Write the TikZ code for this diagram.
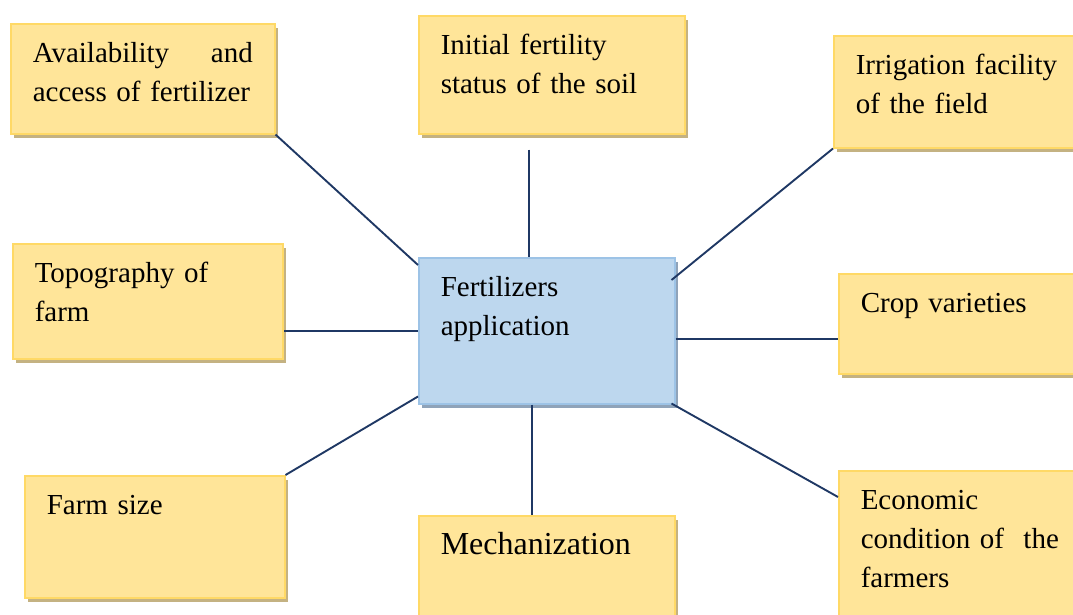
\documentclass[tikz,border=0pt]{standalone}
\usepackage{fontspec}
\setmainfont{Liberation Serif}
\usetikzlibrary{shadows}
\definecolor{factorfill}{HTML}{FFE599}
\definecolor{factorline}{HTML}{FFD966}
\definecolor{factorshadow}{HTML}{C4B282}
\definecolor{hubfill}{HTML}{BDD7EE}
\definecolor{hubline}{HTML}{9DC3E6}
\definecolor{hubshadow}{HTML}{8FA3B9}
\definecolor{linkblue}{HTML}{1F3864}

\begin{document}
\begin{tikzpicture}[x=1pt,y=-1pt,
    box/.style={anchor=north west, line width=1.5pt, inner xsep=22pt, inner ysep=0pt,
        text height=39pt, align=left, font=\fontsize{29pt}{39pt}\selectfont},
    factor/.style={box, draw=factorline, fill=factorfill,
        drop shadow={shadow xshift=3pt, shadow yshift=-4pt, fill=factorshadow, opacity=1}},
    hub/.style={box, draw=hubline, fill=hubfill,
        drop shadow={shadow xshift=3pt, shadow yshift=-4pt, fill=hubshadow, opacity=1}},
    link/.style={draw=linkblue, line width=1.9pt}]
    \useasboundingbox (0,0) rectangle (1073,614);
    \clip (0,0) rectangle (1073,614);

    \node[factor, text width=220pt, text depth=71pt] (avail) at (10,23) {Availability\hfill and\\access of fertilizer};
    \node[factor, text width=222pt, text depth=79pt] (init) at (418,15) {Initial fertility\\status of the soil};
    \node[factor, text width=223pt, text depth=73pt] (irrig) at (833,35) {Irrigation facility\\of the field};
    \node[factor, text width=226pt, text depth=76pt] (topo) at (12,243) {Topography of\\farm};
    \node[hub, text width=212pt, text depth=107pt] (centre) at (418,257) {Fertilizers\\application};
    \node[factor, text width=218pt, text depth=61pt] (crop) at (838,273) {Crop varieties};
    \node[factor, text width=216pt, text depth=83pt] (farm) at (24,475) {Farm size};
    \node[factor, text width=212pt, text depth=86pt, font=\fontsize{32pt}{40pt}\selectfont] (mech) at (418,515) {Mechanization};
    \node[factor, text width=218pt, text depth=111pt] (econ) at (838,470) {Economic\\condition of\ \ the\\farmers};

    \draw[link] (avail.south east) -- ([yshift=-8pt]centre.north west);
    \draw[link] ([xshift=-23pt,yshift=-15pt]init.south) -- ([xshift=-18pt]centre.north);
    \draw[link] (irrig.south west) -- ([xshift=-4pt,yshift=-23pt]centre.north east);
    \draw[link] (centre.west) -- (centre.west -| topo.east);
    \draw[link] ([yshift=-8pt]centre.east) -- ([yshift=-8pt]centre.east -| crop.west);
    \draw[link] (farm.north east) -- ([yshift=8pt]centre.south west);
    \draw[link] ([xshift=-15pt]centre.south) -- ([xshift=-15pt]centre.south |- mech.north);
    \draw[link] ([xshift=-4pt,yshift=1pt]centre.south east) -- ([yshift=-27pt]econ.north west);
\end{tikzpicture}
\end{document}
